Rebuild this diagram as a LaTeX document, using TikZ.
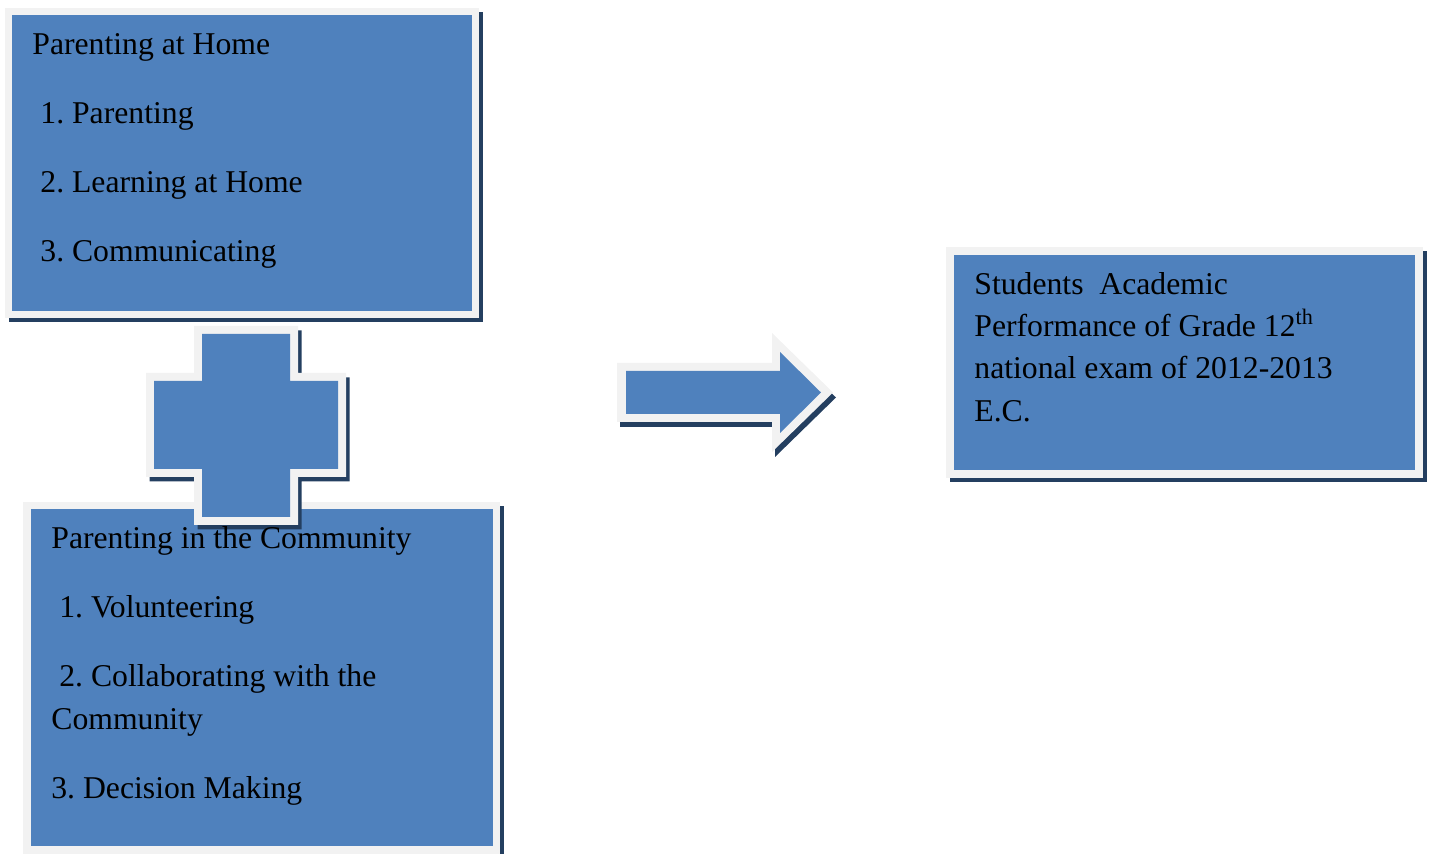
\documentclass[tikz,border=0pt]{standalone}
\usepackage{fontspec}
\setmainfont{Liberation Serif}
\definecolor{boxblue}{HTML}{4F81BD}
\definecolor{rimgrey}{HTML}{F2F2F2}
\definecolor{shade}{HTML}{243F60}
\frenchspacing
\begin{document}
\begin{tikzpicture}[x=0.5pt,y=-0.5pt,
  txt/.style={anchor=base west,inner sep=0pt,font=\fontsize{15.85}{21}\selectfont},
  shadowfill/.style={fill=shade},
  rimfill/.style={fill=rimgrey},
  bluefill/.style={fill=boxblue}]
\useasboundingbox (0,0) rectangle (1432,854);
\clip (0,0) rectangle (1432,854);

% Box 1: Parenting at Home
\fill[shadowfill] (8.5,12.5) rectangle (482.5,322.5);
\fill[rimfill] (5,8) rectangle (479,318);
\fill[bluefill] (12,15) rectangle (472,311);

% Box 3: Students Academic Performance
\fill[shadowfill] (949.5,251.5) rectangle (1426.5,482.5);
\fill[rimfill] (946,247) rectangle (1423,478);
\fill[bluefill] (954,255) rectangle (1415,470);

% Arrow
\fill[shadowfill,shift={(3,5)}] (617,363) -- (772,363) -- (772,333) -- (833,392.5) -- (772,452) -- (772,422) -- (617,422) -- cycle;
\fill[rimfill] (617,363) -- (772,363) -- (772,333) -- (833,392.5) -- (772,452) -- (772,422) -- (617,422) -- cycle;
\fill[bluefill] (626,371) -- (780,371) -- (780,352) -- (821,392.5) -- (780,433) -- (780,414) -- (626,414) -- cycle;

% Box 2: Parenting in the Community
\fill[shadowfill] (26.5,506.5) rectangle (503.5,870);
\fill[rimfill] (23,502) rectangle (500,866);
\fill[bluefill] (31,509) rectangle (493,846);

% Cross (plus sign)
\fill[shadowfill,shift={(3.5,4.5)}] (194,326) -- (298,326) -- (298,373) -- (346,373) -- (346,477) -- (298,477) -- (298,525) -- (194,525) -- (194,477) -- (146,477) -- (146,373) -- (194,373) -- cycle;
\fill[rimfill] (194,326) -- (298,326) -- (298,373) -- (346,373) -- (346,477) -- (298,477) -- (298,525) -- (194,525) -- (194,477) -- (146,477) -- (146,373) -- (194,373) -- cycle;
\fill[bluefill] (202,334) -- (290,334) -- (290,381) -- (338,381) -- (338,469) -- (290,469) -- (290,517) -- (202,517) -- (202,469) -- (154,469) -- (154,381) -- (202,381) -- cycle;

% Texts box 1
\node[txt] (h1) at (32,55) {Parenting at Home};
\node[txt] (h1a) at (40,124) {1. Parenting};
\node[txt] (h1b) at (40,193) {2. Learning at Home};
\node[txt] (h1c) at (40,262) {3. Communicating};

% Texts box 2
\node[txt] (c1) at (51,549) {Parenting in the Community};
\node[txt] (c1a) at (59,618) {1. Volunteering};
\node[txt] (c1b) at (59,687) {2. Collaborating with the};
\node[txt] (c1b2) at (51,730) {Community};
\node[txt] (c1c) at (51,799) {3. Decision Making};

% Texts box 3
\node[txt] (s1) at (974,295) {Students\ \ Academic};
\node[txt] (s2) at (974,337) {Performance of Grade 12\textsuperscript{th}};
\node[txt] (s3) at (974,379) {national exam of 2012-2013};
\node[txt] (s4) at (974,422) {E.C.};
\end{tikzpicture}
\end{document}
